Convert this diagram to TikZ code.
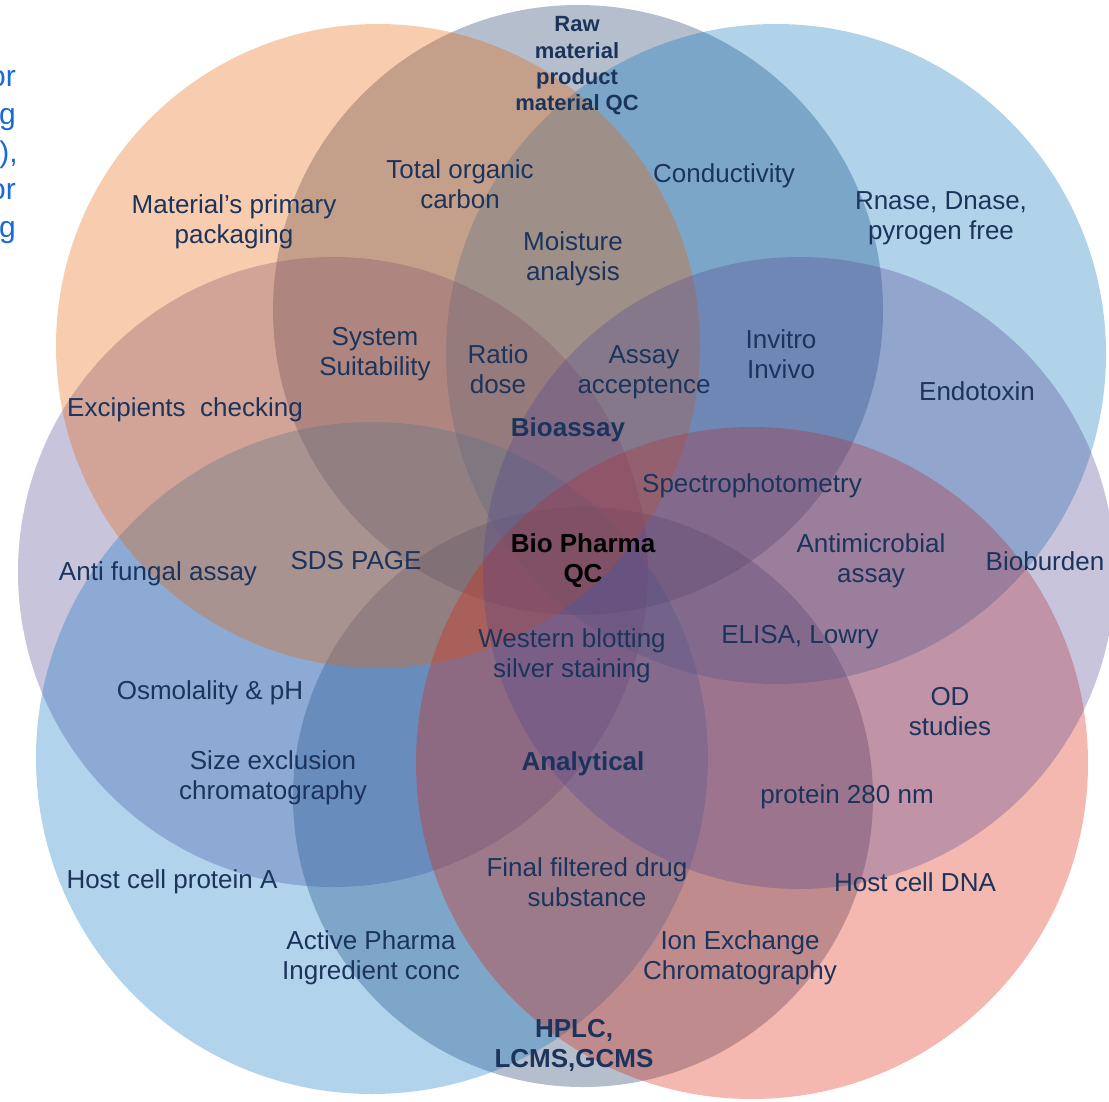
\documentclass[tikz,border=0pt]{standalone}
\usepackage{fontspec}
\setmainfont{Liberation Sans}
\begin{document}
\begin{tikzpicture}[x=1pt,y=-1pt,
  set/.style={fill=#1,fill opacity=0.32,draw=none},
  lbl/.style={text=labelnavy,align=center,font=\fontsize{26}{30}\selectfont,inner sep=0pt},
  head/.style={lbl,font=\fontsize{26}{30}\selectfont\bfseries},
  frag/.style={text=fragblue,anchor=base east,inner sep=0pt,font=\fontsize{30}{36}\selectfont}]
\definecolor{cOrange}{RGB}{233,99,5}
\definecolor{cSlate}{RGB}{21,52,96}
\definecolor{cSky}{RGB}{8,117,189}
\definecolor{cSkyLow}{RGB}{14,117,196}
\definecolor{cLilac}{RGB}{83,71,146}
\definecolor{cCoral}{RGB}{221,33,8}
\definecolor{labelnavy}{RGB}{28,52,92}
\definecolor{fragblue}{RGB}{25,105,215}
\useasboundingbox (0,0) rectangle (1109,1101);
\begin{scope}
\clip (0,0) rectangle (1109,1101);
% overlapping sets, back to front
\fill[set=cSlate]   (578,310) circle[radius=305pt];
\fill[set=cSlate]   (583,797) circle[radius=290pt];
\fill[set=cSky]     (776,354) circle[radius=330pt];
\fill[set=cLilac]   (333,572) circle[radius=315pt];
\fill[set=cSkyLow]  (372,758) circle[radius=336pt];
\fill[set=cOrange]  (378,346) circle[radius=322pt];
\fill[set=cCoral]   (752,763) circle[radius=336pt];
\fill[set=cLilac]   (799,573) circle[radius=316pt];
% text running in from the left margin
\node[frag] (f1) at (16,86) {or};
\node[frag] (f2) at (16,124) {g};
\node[frag] (f3) at (18,162) {c),};
\node[frag] (f4) at (16,199) {or};
\node[frag] (f5) at (16,237) {g};
\end{scope}
% group headings
\node[head,font=\fontsize{22}{26.3}\selectfont\bfseries] (raw) at (577,66) {Raw\\material\\product\\material QC};
\node[head] (bio) at (568,430) {Bioassay};
\node[head] (ana) at (583,764) {Analytical};
\node[head] (hplc) at (574,1045) {HPLC,\\LCMS,GCMS};
\node[head,text=black] (qc) at (583,561) {Bio Pharma\\QC};
% region labels
\node[lbl] (toc) at (460,184) {Total organic\\carbon};
\node[lbl] (cond) at (724,176) {Conductivity};
\node[lbl] (pack) at (234,222) {Material’s primary\\packaging};
\node[lbl] (rnase) at (941,218) {Rnase, Dnase,\\pyrogen free};
\node[lbl] (moist) at (573,259) {Moisture\\analysis};
\node[lbl] (sys) at (375,354) {System\\Suitability};
\node[lbl] (ratio) at (498,369) {Ratio\\dose};
\node[lbl] (assay) at (644,372) {Assay\\acceptence};
\node[lbl] (vitro) at (781,354) {Invitro\\Invivo};
\node[lbl] (endo) at (977,391) {Endotoxin};
\node[lbl] (excip) at (185,410) {Excipients\ \ checking};
\node[lbl] (spec) at (752,486) {Spectrophotometry};
\node[lbl] (micro) at (871,561) {Antimicrobial\\assay};
\node[lbl] (burden) at (1045,561) {Bioburden};
\node[lbl] (sds) at (356,561) {SDS PAGE};
\node[lbl] (fungal) at (158,574) {Anti fungal assay};
\node[lbl] (blot) at (572,656) {Western blotting\\silver staining};
\node[lbl] (elisa) at (800,637) {ELISA, Lowry};
\node[lbl] (osmo) at (210,693) {Osmolality \& pH};
\node[lbl] (od) at (950,712) {OD\\studies};
\node[lbl] (sec) at (273,778) {Size exclusion\\chromatography};
\node[lbl] (prot) at (847,797) {protein 280 nm};
\node[lbl] (hcp) at (172,882) {Host cell protein A};
\node[lbl] (final) at (587,882) {Final filtered drug\\substance};
\node[lbl] (dna) at (915,882) {Host cell DNA};
\node[lbl] (api) at (371,958) {Active Pharma\\Ingredient conc};
\node[lbl] (iex) at (740,958) {Ion Exchange\\Chromatography};
\end{tikzpicture}
\end{document}
